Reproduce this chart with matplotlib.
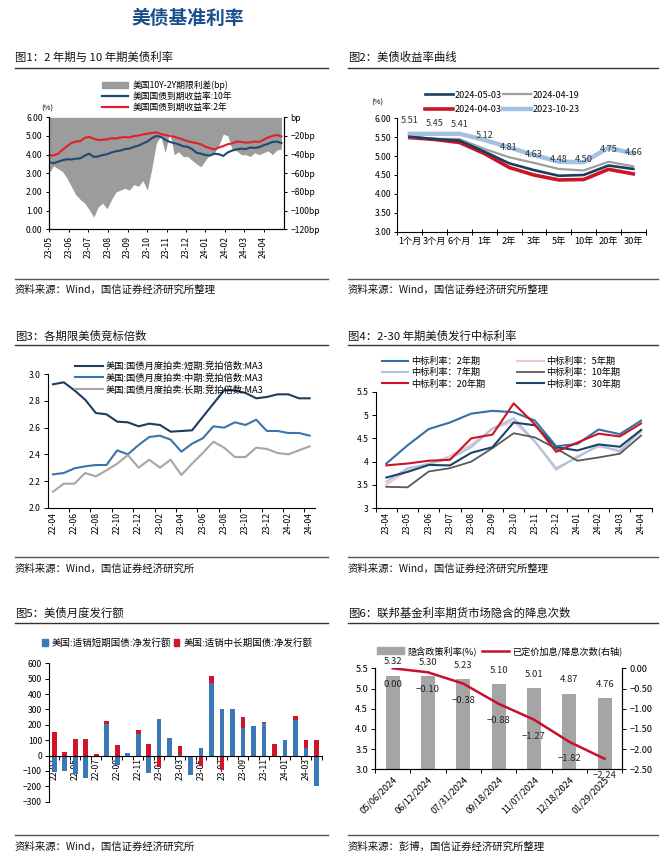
import numpy as np
import pandas as pd
import matplotlib
matplotlib.use('Agg')
import matplotlib.pyplot as plt
import matplotlib.dates as mdates
from matplotlib.lines import Line2D
from matplotlib.patches import Patch
from matplotlib.ticker import FixedLocator, FuncFormatter

plt.rcParams['font.family'] = ['Noto Sans CJK SC', 'DejaVu Sans']
plt.rcParams['axes.unicode_minus'] = True

W, H = 669, 861

# ---------------- data ----------------
# fig1: weekly readings, 2023-05-01 .. 2024-04-29
y2_fig1 = [3.98, 3.95, 4.05, 4.25, 4.45, 4.62, 4.70, 4.72, 4.90, 4.95, 4.85, 4.78, 4.80, 4.82,
           4.88, 4.86, 4.92, 4.94, 4.92, 5.00, 5.02, 5.08, 5.12, 5.16, 5.20, 5.10, 5.05, 5.00,
           4.96, 4.88, 4.80, 4.72, 4.66, 4.62, 4.55, 4.42, 4.35, 4.28, 4.38, 4.46, 4.56, 4.60,
           4.70, 4.68, 4.64, 4.66, 4.70, 4.68, 4.80, 4.92, 5.00, 5.05, 4.98]
y10_fig1 = [3.60, 3.54, 3.62, 3.70, 3.75, 3.74, 3.78, 3.80, 3.95, 4.05, 3.88, 3.90, 3.98, 4.02,
            4.12, 4.18, 4.22, 4.30, 4.32, 4.42, 4.48, 4.60, 4.70, 4.88, 5.00, 4.95, 4.80, 4.68,
            4.62, 4.55, 4.45, 4.42, 4.30, 4.10, 4.05, 3.98, 3.95, 4.05, 4.02, 3.93, 4.12, 4.22,
            4.28, 4.32, 4.30, 4.38, 4.36, 4.40, 4.50, 4.58, 4.68, 4.70, 4.62]
spread_fig1 = [-60, -52, -55, -58, -65, -74, -83, -88, -92, -99, -107, -96, -92, -98, -88, -80,
               -78, -76, -78, -72, -74, -68, -78, -55, -28, -20, -38, -16, -40, -37, -42, -42,
               -46, -50, -53, -46, -40, -38, -30, -18, -20, -35, -36, -40, -40, -42, -38, -40,
               -38, -36, -40, -35, -34]
dates_fig1 = pd.date_range('2023-05-01', periods=len(y2_fig1), freq='7D')

# fig2: yield curves
tenors = ['1个月', '3个月', '6个月', '1年', '2年', '3年', '5年', '10年', '20年', '30年']
curve_0503 = [5.51, 5.45, 5.41, 5.12, 4.81, 4.63, 4.48, 4.50, 4.75, 4.66]
curve_0419 = [5.50, 5.46, 5.45, 5.19, 4.97, 4.82, 4.66, 4.62, 4.85, 4.73]
curve_0403 = [5.49, 5.44, 5.36, 5.07, 4.70, 4.50, 4.37, 4.38, 4.65, 4.53]
curve_1023 = [5.59, 5.59, 5.59, 5.43, 5.23, 5.03, 4.85, 4.84, 5.22, 5.07]

# fig3: bid-to-cover (MA3), 22-04 .. 24-04
months_fig3 = ['22-04', '22-05', '22-06', '22-07', '22-08', '22-09', '22-10', '22-11', '22-12',
               '23-01', '23-02', '23-03', '23-04', '23-05', '23-06', '23-07', '23-08', '23-09',
               '23-10', '23-11', '23-12', '24-01', '24-02', '24-03', '24-04']
btc_short = [2.925, 2.94, 2.88, 2.81, 2.71, 2.70, 2.645, 2.64, 2.61, 2.63, 2.62, 2.57, 2.575,
             2.58, 2.68, 2.78, 2.88, 2.88, 2.86, 2.82, 2.83, 2.85, 2.85, 2.82, 2.82]
btc_mid = [2.25, 2.26, 2.295, 2.31, 2.32, 2.32, 2.43, 2.40, 2.47, 2.53, 2.54, 2.51, 2.42, 2.48,
           2.52, 2.61, 2.60, 2.64, 2.62, 2.66, 2.575, 2.575, 2.56, 2.56, 2.54]
btc_long = [2.12, 2.18, 2.18, 2.26, 2.235, 2.28, 2.33, 2.395, 2.30, 2.36, 2.30, 2.36, 2.245,
            2.33, 2.41, 2.495, 2.45, 2.38, 2.38, 2.45, 2.44, 2.41, 2.40, 2.43, 2.46]

# fig4: auction high yields, 23-04 .. 24-04
months_fig4 = ['23-04', '23-05', '23-06', '23-07', '23-08', '23-09', '23-10', '23-11', '23-12',
               '24-01', '24-02', '24-03', '24-04']
auc_2y = [3.96, 4.35, 4.70, 4.84, 5.03, 5.09, 5.06, 4.88, 4.33, 4.38, 4.69, 4.59, 4.88]
auc_5y = [3.50, 3.82, 3.96, 4.12, 4.36, 4.71, 4.86, 4.43, 3.82, 4.12, 4.32, 4.25, 4.64]
auc_7y = [3.57, 3.86, 3.95, 4.07, 4.31, 4.71, 4.93, 4.43, 3.86, 4.09, 4.36, 4.21, 4.68]
auc_10y = [3.46, 3.45, 3.79, 3.86, 4.00, 4.29, 4.61, 4.52, 4.28, 4.02, 4.09, 4.17, 4.56]
auc_20y = [3.92, 3.96, 4.02, 4.04, 4.50, 4.58, 5.25, 4.80, 4.21, 4.41, 4.60, 4.54, 4.82]
auc_30y = [3.66, 3.78, 3.93, 3.92, 4.19, 4.31, 4.84, 4.78, 4.31, 4.24, 4.37, 4.32, 4.68]

# fig5: net issuance, 22-03 .. 24-04
months_fig5 = ['22-03', '22-04', '22-05', '22-06', '22-07', '22-08', '22-09', '22-10', '22-11',
               '22-12', '23-01', '23-02', '23-03', '23-04', '23-05', '23-06', '23-07', '23-08',
               '23-09', '23-10', '23-11', '23-12', '24-01', '24-02', '24-03', '24-04']
net_bills = [-110, -100, -120, -147, 0, 204, -60, 19, 141, -115, 238, 117, 5, -126, 48, 470,
             301, 301, 182, 195, 210, 0, 102, 232, 48, -197]
net_coupons = [156, 26, 106, 106, 11, 23, 69, 0, 26, 76, -75, 0, 54, 0, -70, 48, -93, -5, 71,
               0, 11, 76, -5, 26, 52, 100]

# fig6: fed funds futures
meetings = ['05/06/2024', '06/12/2024', '07/31/2024', '09/18/2024', '11/07/2024', '12/18/2024',
            '01/29/2025']
implied_rate = [5.32, 5.30, 5.23, 5.10, 5.01, 4.87, 4.76]
priced_cuts = [0.00, -0.10, -0.38, -0.88, -1.27, -1.82, -2.24]

# ---------------- helpers ----------------
fig = plt.figure(figsize=(W / 100, H / 100), dpi=100)


def fx(x):
    return x / W


def fy(y):
    return 1 - y / H


def box(x0, y0, x1, y1):
    return fig.add_axes([fx(x0), fy(y1), (x1 - x0) / W, (y1 - y0) / H])


def frame(x0, x1, y_head, y_rule, y_srule, y_src, head, src):
    fig.text(fx(x0), fy(y_head), head, fontsize=8.2, va='center', ha='left', color='#111111')
    fig.add_artist(Line2D([fx(x0), fx(x1)], [fy(y_rule)] * 2, color='#333333', lw=1.0))
    fig.add_artist(Line2D([fx(x0), fx(x1)], [fy(y_srule)] * 2, color='#555555', lw=1.0))
    fig.text(fx(x0), fy(y_src), src, fontsize=7.5, va='center', ha='left', color='#111111')


def legend(ax, handles, labels, x, y, fs, ncol=1, hl=3.0, cs=1.0, ls=0.2, htp=0.5):
    return ax.legend(handles, labels, loc='upper left', bbox_to_anchor=(fx(x), fy(y)),
                     bbox_transform=fig.transFigure, frameon=False, fontsize=fs, ncol=ncol,
                     handlelength=hl, columnspacing=cs, labelspacing=ls, handletextpad=htp,
                     borderpad=0, borderaxespad=0)


def cat_axis(ax, n, labels, step=1, marks=None, rot=90):
    ax.set_xlim(-0.5, n - 0.5)
    idx = list(range(0, n, step))
    ax.set_xticks(idx)
    ax.set_xticklabels([labels[i] for i in idx], rotation=rot)
    if marks is None:
        marks = [i - 0.5 for i in range(n + 1)]
    ax.xaxis.set_minor_locator(FixedLocator(marks))
    ax.tick_params(axis='x', which='major', length=0, pad=3)
    ax.tick_params(axis='x', which='minor', length=3, width=0.7, direction='out')


TICK_FS = 6.2
title_color = '#1b4f8a'

fig.text(fx(188), fy(18), '美债基准利率', fontsize=13.5, fontweight='bold', color=title_color,
         ha='center', va='center')

# ---------------- fig 1 ----------------
frame(15, 328, 57, 68, 279, 290, '图1：2 年期与 10 年期美债利率', '资料来源：Wind，国信证券经济研究所整理')
ax1 = box(49, 117.3, 284, 229.3)
ax1r = ax1.twinx()
ax1r.fill_between(dates_fig1, 0, spread_fig1, color='#9c9c9c', lw=0)
ax1.plot(dates_fig1, y10_fig1, color='#1d4a72', lw=1.5)
ax1.plot(dates_fig1, y2_fig1, color='#e0202c', lw=1.5)
ax1.set_zorder(ax1r.get_zorder() + 1)
ax1.patch.set_visible(False)
ax1.set_ylim(0, 6)
ax1.set_yticks(np.arange(0, 6.01, 1))
ax1.yaxis.set_major_formatter(FuncFormatter(lambda v, p: f'{v:.2f}'))
ax1r.set_ylim(-120, 0)
ax1r.set_yticks(np.arange(-120, 1, 20))
ax1r.yaxis.set_major_formatter(FuncFormatter(
    lambda v, p: 'bp' if v == 0 else f'\u2212{abs(int(v))}bp'))
ax1.set_xlim(pd.Timestamp('2023-05-01'), pd.Timestamp('2024-05-03'))
ax1.set_xticks(pd.date_range('2023-05-01', '2024-04-01', freq='MS'))
ax1.xaxis.set_major_formatter(mdates.DateFormatter('%y-%m'))
ax1.tick_params(axis='x', labelrotation=90, labelsize=TICK_FS, length=2.5, width=0.7, pad=2)
ax1.tick_params(axis='y', labelsize=TICK_FS, length=2.5, width=0.7, pad=2)
ax1r.tick_params(axis='y', labelsize=TICK_FS, length=2.5, width=0.7, pad=2)
for a in (ax1, ax1r):
    a.spines['top'].set_visible(False)
    for s in ('left', 'right', 'bottom'):
        a.spines[s].set_linewidth(0.8)
fig.text(fx(47), fy(109), '(%)', fontsize=5.5, ha='center', va='center')
legend(ax1, [Patch(color='#9c9c9c'), Line2D([], [], color='#1d4a72', lw=1.6),
             Line2D([], [], color='#e0202c', lw=1.6)],
       ['美国10Y-2Y期限利差(bp)', '美国国债到期收益率:10年', '美国国债到期收益率:2年'],
       102, 80.5, 6.3, hl=3.0, ls=0.22, htp=0.5)

# ---------------- fig 2 ----------------
frame(348, 658, 57, 68, 279, 290, '图2：美债收益率曲线', '资料来源：Wind，国信证券经济研究所整理')
ax2 = box(397.3, 118.3, 645.7, 231.7)
xc = np.arange(len(tenors))
l_1023, = ax2.plot(xc, curve_1023, color='#a3c2e3', lw=3.2, solid_joinstyle='round', zorder=2)
l_0403, = ax2.plot(xc, curve_0403, color='#cc1426', lw=2.6, solid_joinstyle='round', zorder=3)
l_0419, = ax2.plot(xc, curve_0419, color='#9e9e9e', lw=1.6, solid_joinstyle='round', zorder=4)
l_0503, = ax2.plot(xc, curve_0503, color='#1c3e5e', lw=1.9, solid_joinstyle='round', zorder=5)
for i, v in enumerate(curve_0503):
    ax2.annotate(f'{v:.2f}', (i, v), xytext=(0, 11.5), textcoords='offset points', ha='center',
                 va='center', fontsize=6.6, color='#333333', zorder=6)
ax2.set_ylim(3, 6)
ax2.set_yticks(np.arange(3, 6.01, 0.5))
ax2.yaxis.set_major_formatter(FuncFormatter(lambda v, p: f'{v:.2f}'))
cat_axis(ax2, len(tenors), tenors, rot=0)
ax2.tick_params(axis='x', which='major', labelsize=6.6, pad=4)
ax2.tick_params(axis='x', which='minor', direction='inout', length=5)
ax2.tick_params(axis='y', labelsize=TICK_FS, length=2.5, width=0.7, pad=2)
for s in ('top', 'right'):
    ax2.spines[s].set_visible(False)
fig.text(fx(377), fy(103), '(%)', fontsize=5.5, ha='center', va='center')
legend(ax2, [l_0503, l_0403, l_0419, l_1023],
       ['2024-05-03', '2024-04-03', '2024-04-19', '2023-10-23'],
       425, 90.5, 6.5, ncol=2, hl=3.1, cs=0.1, ls=0.6, htp=0.2)

# ---------------- fig 3 ----------------
frame(15, 328, 336.5, 345, 557.3, 568.5, '图3：各期限美债竞标倍数', '资料来源：Wind，国信证券经济研究所')
ax3 = box(47.7, 374.3, 315, 507.7)
x3 = np.arange(len(months_fig3))
h_s, = ax3.plot(x3, btc_short, color='#1c3d5c', lw=1.5)
h_m, = ax3.plot(x3, btc_mid, color='#3a74aa', lw=1.5)
h_l, = ax3.plot(x3, btc_long, color='#a6a6a6', lw=1.5)
ax3.set_ylim(2.0, 3.0)
ax3.set_yticks(np.arange(2.0, 3.01, 0.2))
ax3.yaxis.set_major_formatter(FuncFormatter(lambda v, p: f'{v:.1f}'))
cat_axis(ax3, len(months_fig3), months_fig3, step=2,
         marks=[i + 0.5 for i in range(1, len(months_fig3) - 1, 2)])
ax3.tick_params(axis='x', which='major', labelsize=TICK_FS)
ax3.tick_params(axis='y', labelsize=TICK_FS, length=3, width=0.7, pad=2)
for s in ('top', 'right'):
    ax3.spines[s].set_visible(False)
legend(ax3, [h_s, h_m, h_l],
       ['美国:国债月度拍卖:短期:竞拍倍数:MA3', '美国:国债月度拍卖:中期:竞拍倍数:MA3',
        '美国:国债月度拍卖:长期:竞拍倍数:MA3'],
       75, 361.5, 6.7, hl=3.0, ls=0.25, htp=0.25)

# ---------------- fig 4 ----------------
frame(348, 658, 336.5, 345, 557.3, 568.5, '图4：2-30 年期美债发行中标利率', '资料来源：Wind，国信证券经济研究所整理')
ax4 = box(375.7, 391.7, 651.7, 508.3)
x4 = np.arange(len(months_fig4))
h5, = ax4.plot(x4, auc_5y, color='#f3c2cc', lw=1.5)
h7, = ax4.plot(x4, auc_7y, color='#a9c5e2', lw=1.5)
h10, = ax4.plot(x4, auc_10y, color='#595959', lw=1.3)
h30, = ax4.plot(x4, auc_30y, color='#1c4468', lw=1.5)
h2, = ax4.plot(x4, auc_2y, color='#3670a6', lw=1.5)
h20, = ax4.plot(x4, auc_20y, color='#cc1426', lw=1.5)
ax4.set_ylim(3, 5.5)
ax4.set_yticks(np.arange(3, 5.51, 0.5))
ax4.yaxis.set_major_formatter(FuncFormatter(lambda v, p: f'{v:g}'))
cat_axis(ax4, len(months_fig4), months_fig4)
ax4.tick_params(axis='x', which='major', labelsize=TICK_FS)
ax4.tick_params(axis='y', labelsize=TICK_FS, length=3, width=0.7, pad=2)
for s in ('top', 'right'):
    ax4.spines[s].set_visible(False)
legend(ax4, [h2, h7, h20, h5, h10, h30],
       ['中标利率：2年期', '中标利率：7年期', '中标利率：20年期',
        '中标利率：5年期', '中标利率：10年期', '中标利率：30年期'],
       381.7, 357, 6.6, ncol=2, hl=2.9, cs=3.5, ls=0.22, htp=0.3)

# ---------------- fig 5 ----------------
frame(15, 328, 613.3, 623, 834.5, 846.5, '图5：美债月度发行额', '资料来源：Wind，国信证券经济研究所')
ax5 = box(49, 663.3, 321.7, 801.7)
x5 = np.arange(len(months_fig5))
bills = np.array(net_bills, dtype=float)
coupons = np.array(net_coupons, dtype=float)
red_bottom = np.where(coupons >= 0, np.maximum(bills, 0), np.minimum(bills, 0))
ax5.bar(x5, bills, width=0.45, color='#3a78b6', zorder=3)
ax5.bar(x5, coupons, width=0.45, bottom=red_bottom, color='#d0142c', zorder=3)
ax5.set_ylim(-300, 600)
ax5.set_yticks(np.arange(-300, 601, 100))
ax5.yaxis.set_major_formatter(FuncFormatter(lambda v, p: f'{int(v)}'.replace('-', '\u2212')))
ax5.spines['bottom'].set_position(('data', 0))
ax5.spines['bottom'].set_zorder(4)
ax5.xaxis.set_zorder(2)
cat_axis(ax5, len(months_fig5), months_fig5, step=2)
ax5.tick_params(axis='x', which='major', labelsize=TICK_FS, pad=2)
ax5.tick_params(axis='y', labelsize=TICK_FS, length=3, width=0.7, pad=2)
for s in ('top', 'right'):
    ax5.spines[s].set_visible(False)
legend(ax5, [Patch(color='#3a78b6'), Patch(color='#d0142c')],
       ['美国:适销短期国债:净发行额', '美国:适销中长期国债:净发行额'],
       42, 638, 6.8, ncol=2, hl=0.6, cs=0.3, htp=0.4)

# ---------------- fig 6 ----------------
frame(348, 658, 613.3, 623, 834.5, 846.5, '图6：联邦基金利率期货市场隐含的降息次数', '资料来源：彭博，国信证券经济研究所整理')
ax6 = box(375, 668.3, 622.3, 769.3)
ax6r = ax6.twinx()
x6 = np.arange(len(meetings))
b6 = ax6.bar(x6, implied_rate, width=0.4, color='#a5a5a5')
l6, = ax6r.plot(x6, priced_cuts, color='#c8102e', lw=1.8)
for i, v in enumerate(implied_rate):
    ax6.annotate(f'{v:.2f}', (i, v), xytext=(0, 10), textcoords='offset points', ha='center',
                 va='center', fontsize=6.8, color='#222222', annotation_clip=False)
for i, v in enumerate(priced_cuts):
    ax6r.annotate(f'{v:.2f}'.replace('-', '\u2212'), (i, v), xytext=(0, -12),
                  textcoords='offset points', ha='center', va='center', fontsize=6.8,
                  color='#222222', annotation_clip=False)
ax6.set_ylim(3.0, 5.5)
ax6.set_yticks(np.arange(3.0, 5.51, 0.5))
ax6.yaxis.set_major_formatter(FuncFormatter(lambda v, p: f'{v:.1f}'))
ax6r.set_ylim(-2.5, 0)
ax6r.set_yticks(np.arange(-2.5, 0.01, 0.5))
ax6r.yaxis.set_major_formatter(FuncFormatter(lambda v, p: f'{v:.2f}'.replace('-', '\u2212')))
cat_axis(ax6, len(meetings), meetings, rot=45)
for t in ax6.get_xticklabels():
    t.set_ha('right')
    t.set_rotation_mode('anchor')
ax6.tick_params(axis='x', which='major', labelsize=6.6, pad=4)
ax6.tick_params(axis='y', labelsize=6.6, length=3, width=0.7, pad=2)
ax6r.tick_params(axis='y', labelsize=6.6, length=3, width=0.7, pad=2)
for a in (ax6, ax6r):
    a.spines['top'].set_visible(False)
legend(ax6, [Patch(color='#a5a5a5'), l6], ['隐含政策利率(%)', '已定价加息/降息次数(右轴)'],
       376.7, 646, 6.6, ncol=2, hl=3.0, cs=0.6, htp=0.3)

fig.savefig('out.png', dpi=100)
